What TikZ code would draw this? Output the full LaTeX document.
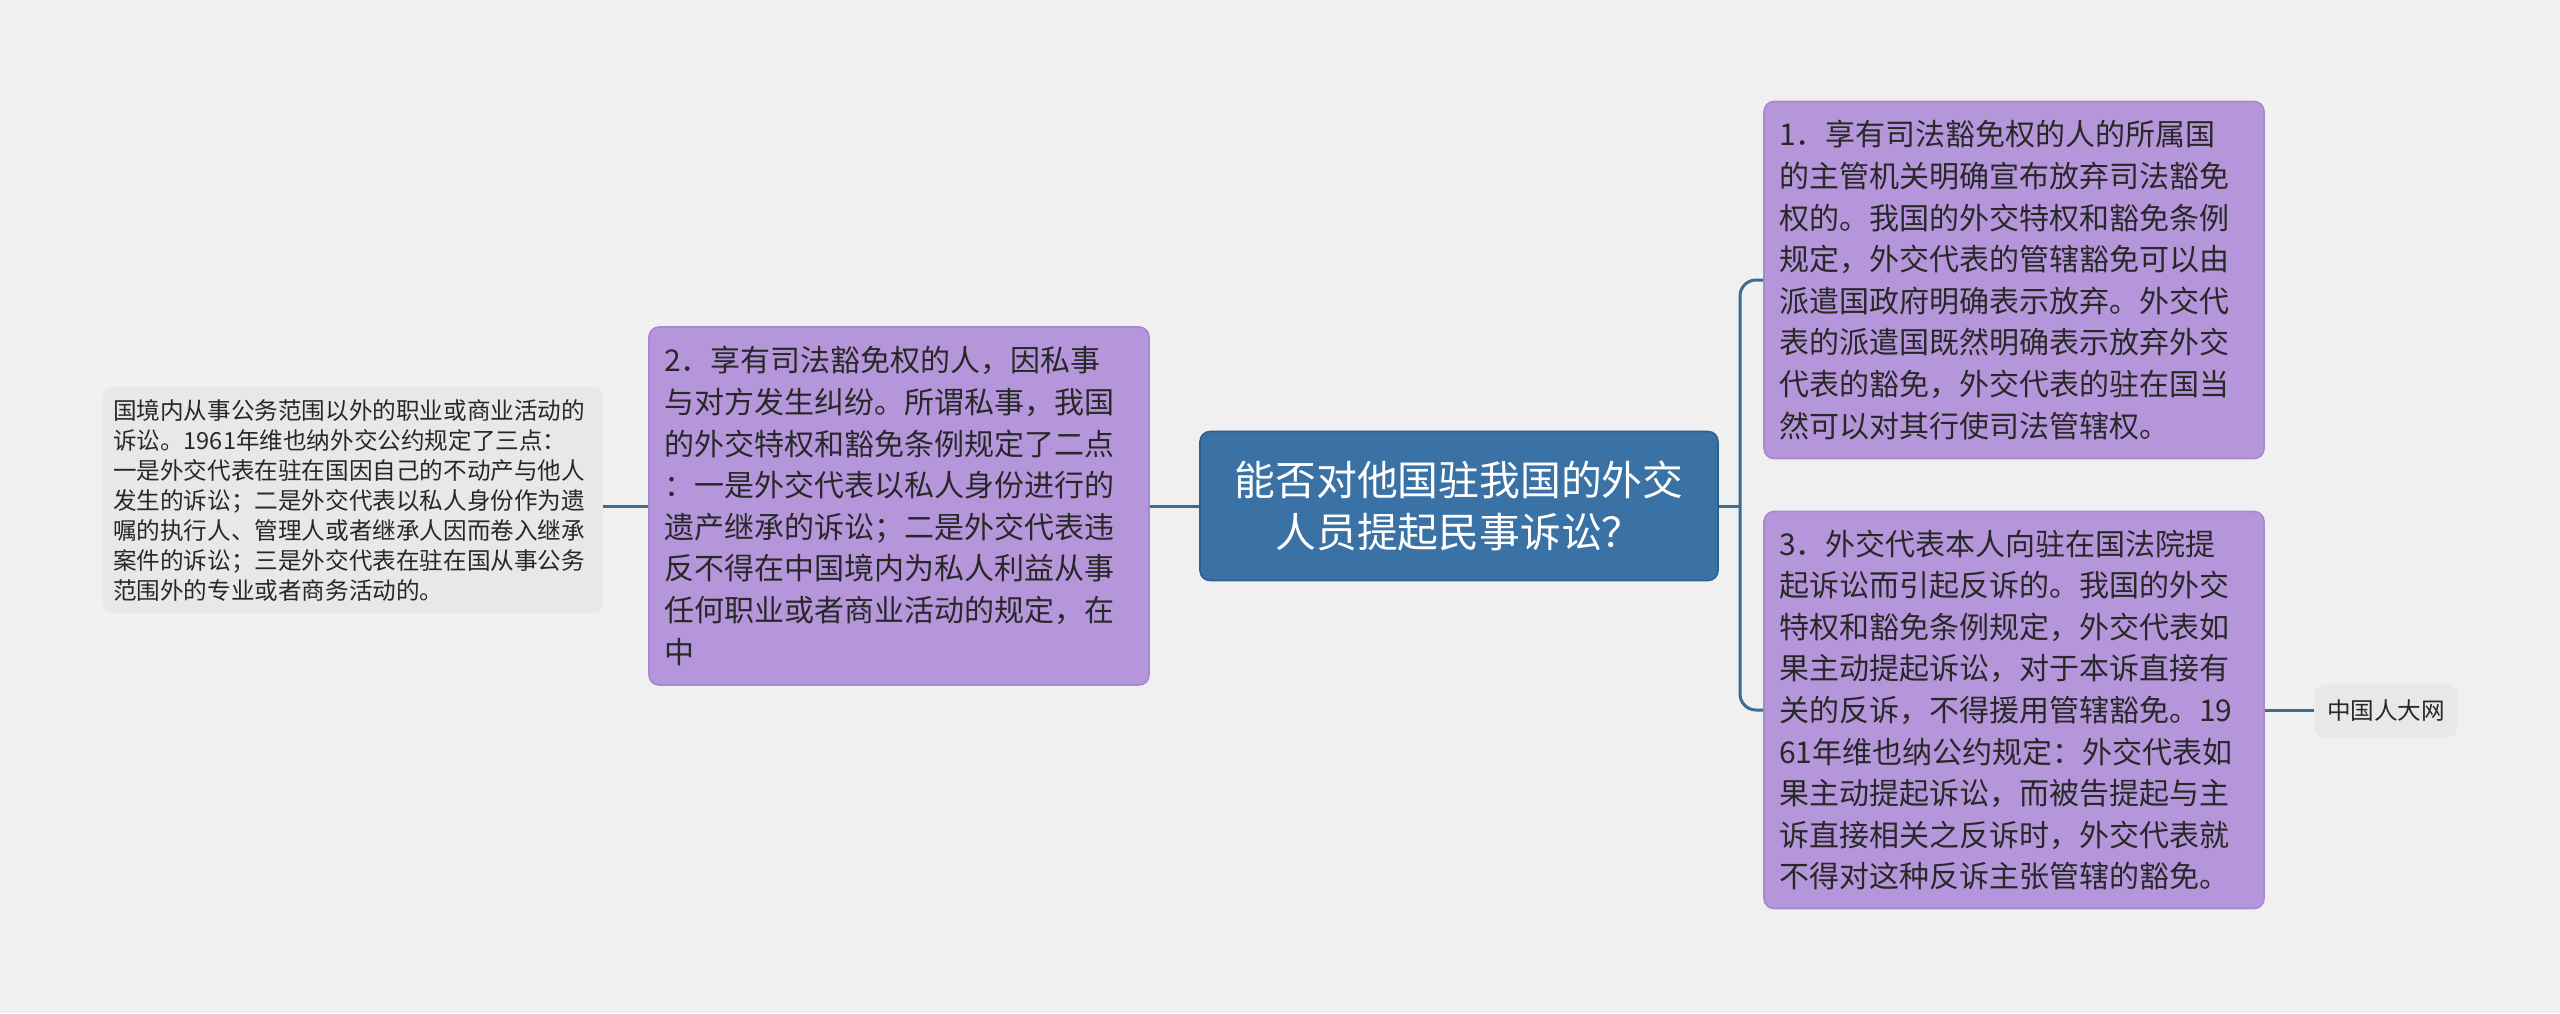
\documentclass[tikz,border=0pt]{standalone}
\usepackage{fontspec}
\setmainfont{Noto Sans CJK SC}
\definecolor{bgcol}{RGB}{240,240,240}
\definecolor{linecol}{RGB}{58,108,150}
\definecolor{rootcol}{RGB}{59,114,165}
\definecolor{rootedge}{RGB}{47,96,140}
\definecolor{topiccol}{RGB}{182,150,219}
\definecolor{topicedge}{RGB}{168,136,206}
\definecolor{notecol}{RGB}{232,232,232}
\definecolor{inkcol}{RGB}{40,40,40}
\tikzset{
  root/.style={fill=rootcol, draw=rootedge, line width=0.8pt, rounded corners=5pt,
    text=white, align=center, minimum width=259pt, minimum height=74.5pt,
    font=\fontsize{20.4}{26}\selectfont},
  topic/.style={fill=topiccol, draw=topicedge, line width=0.8pt, rounded corners=5pt,
    text=inkcol, align=left, text width=235pt, inner xsep=7.5pt,
    font=\fontsize{15}{20.8}\selectfont},
  note/.style={fill=notecol, rounded corners=5pt, text=inkcol, align=left,
    text width=240pt, inner xsep=5pt, font=\fontsize{11.8}{15}\selectfont},
  link/.style={draw=linecol, line width=1.5pt}
}
\begin{document}
\begin{tikzpicture}[x=0.5pt,y=-0.5pt]
        \fill[bgcol] (0,0) rectangle (2560,1013);
        \useasboundingbox (0,0) rectangle (2560,1013);

        \node[root] at (1459,506) (main) {能否对他国驻我国的外交\\人员提起民事诉讼？};
        \node[topic, minimum height=179pt] at (899,506) (private) {2．享有司法豁免权的人，因私事\\与对方发生纠纷。所谓私事，我国\\的外交特权和豁免条例规定了二点\\：一是外交代表以私人身份进行的\\遗产继承的诉讼；二是外交代表违\\反不得在中国境内为私人利益从事\\任何职业或者商业活动的规定，在\\中};
        \node[note, minimum height=113pt] at (353,500) (treaty) {国境内从事公务范围以外的职业或商业活动的\\诉讼。1961年维也纳外交公约规定了三点：\\一是外交代表在驻在国因自己的不动产与他人\\发生的诉讼；二是外交代表以私人身份作为遗\\嘱的执行人、管理人或者继承人因而卷入继承\\案件的诉讼；三是外交代表在驻在国从事公务\\范围外的专业或者商务活动的。};
        \node[topic, minimum height=178.5pt] at (2014,280) (waiver) {1．享有司法豁免权的人的所属国\\的主管机关明确宣布放弃司法豁免\\权的。我国的外交特权和豁免条例\\规定，外交代表的管辖豁免可以由\\派遣国政府明确表示放弃。外交代\\表的派遣国既然明确表示放弃外交\\代表的豁免，外交代表的驻在国当\\然可以对其行使司法管辖权。};
        \node[topic, minimum height=198.5pt] at (2014,710) (counter) {3．外交代表本人向驻在国法院提\\起诉讼而引起反诉的。我国的外交\\特权和豁免条例规定，外交代表如\\果主动提起诉讼，对于本诉直接有\\关的反诉，不得援用管辖豁免。19\\61年维也纳公约规定：外交代表如\\果主动提起诉讼，而被告提起与主\\诉直接相关之反诉时，外交代表就\\不得对这种反诉主张管辖的豁免。};
        \node[note, text width=, minimum width=71.5pt, minimum height=26.5pt, align=center] at (2386,711) (source) {中国人大网};
        \coordinate (fork) at (1740,506);

        \draw[link] (main.west) -- (private.east);
        \draw[link] (private.west) -- (private.west -| treaty.east);
        \draw[link] (main.east) -- (fork);
        \draw[link, rounded corners=8pt] (fork) |- (waiver.west);
        \draw[link, rounded corners=8pt] (fork) |- (counter.west);
        \draw[link] (counter.east) -- (counter.east -| source.west);

    \end{tikzpicture}
\end{document}
